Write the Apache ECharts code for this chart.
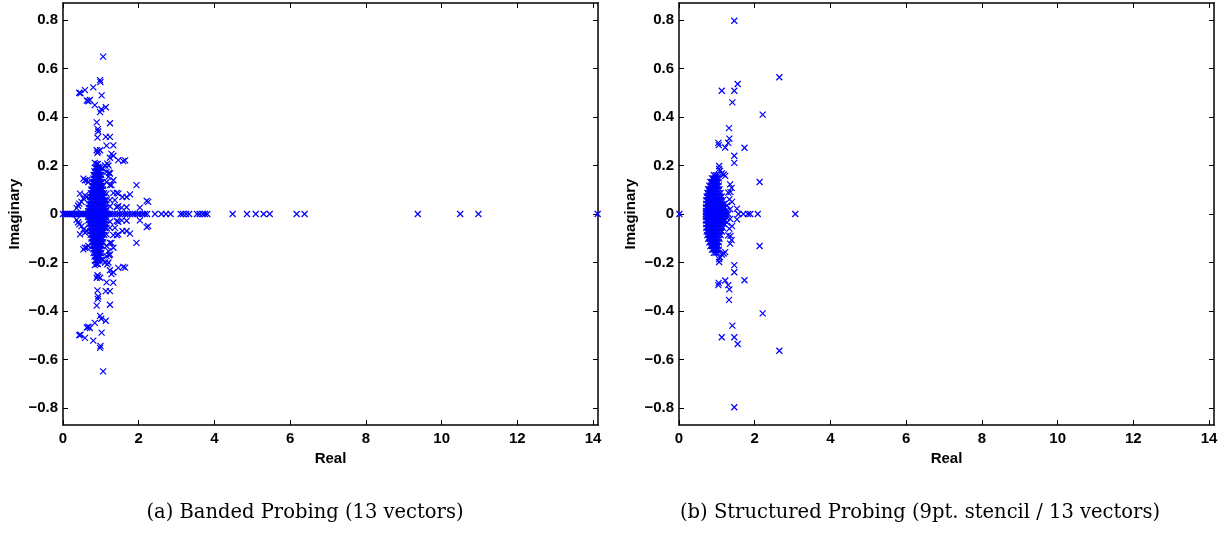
<!DOCTYPE html>
<html>
<head>
<meta charset="utf-8">
<script src="https://cdn.jsdelivr.net/npm/echarts@6/dist/echarts.min.js"></script>
<style>
html,body{margin:0;padding:0;background:#fff;}
#chart{width:1225px;height:537px;}
</style>
</head>
<body>
<div id="chart"></div>
<script>
// ---- tick labels ----
const xTicks = [0, 2, 4, 6, 8, 10, 12, 14];
const yTicks = [-0.8, -0.6, -0.4, -0.2, 0, 0.2, 0.4, 0.6, 0.8];
const captions = ['(a) Banded Probing (13 vectors)', '(b) Structured Probing (9pt. stencil / 13 vectors)'];

// ---- (a) Banded probing: real eigenvalues ----
const leftReal = [0.00,0.05,0.10,0.14,0.18,0.22,0.25,0.29,0.32,0.36,0.40,0.44,0.48,0.52,0.56,0.60,0.64,
  0.68,0.72,0.76,0.80,0.84,0.88,0.92,0.96,1.00,1.04,1.08,1.12,1.16,1.20,1.24,1.30,1.37,1.44,1.50,1.57,
  1.64,1.70,1.77,1.84,1.90,1.97,2.03,2.10,2.16,2.22,2.43,2.60,2.72,2.84,3.11,3.17,3.25,3.33,3.54,3.61,
  3.69,3.75,3.81,4.48,4.86,5.09,5.30,5.46,6.17,6.38,9.37,10.49,10.97,14.12];
// complex eigenvalues (re, |im|), each drawn with its conjugate
const leftComplex = [
  [1.06,0.649],[0.98,0.552],[0.99,0.544],[0.43,0.500],[0.46,0.498],[0.58,0.511],[0.80,0.522],[1.02,0.489],
  [0.63,0.468],[0.67,0.465],[0.71,0.470],[0.84,0.449],[0.98,0.420],[1.01,0.432],[1.13,0.440],[0.89,0.378],
  [1.24,0.374],[0.92,0.350],[0.93,0.340],[0.91,0.315],[1.13,0.318],[1.24,0.318],[1.15,0.282],[1.33,0.283],
  [0.89,0.263],[0.98,0.263],[0.91,0.252],[0.93,0.258],[1.28,0.248],[1.33,0.240],[1.24,0.232],[1.46,0.222],
  [1.59,0.218],[1.64,0.221],[0.84,0.211],[1.11,0.200],[1.17,0.208],[1.20,0.200],[1.02,0.188],[0.93,0.194],
  [1.06,0.188],[1.15,0.174],[1.24,0.167],[1.22,0.170],[0.54,0.146],[0.58,0.139],[0.63,0.139],[0.67,0.132],
  [1.94,0.119],[1.28,0.119],[1.33,0.139],[1.20,0.153],[1.15,0.132],[1.24,0.119],[0.45,0.084],[0.58,0.077],
  [0.54,0.064],[0.63,0.070],[0.49,0.050],[1.42,0.087],[1.46,0.084],[1.33,0.087],[1.15,0.084],[1.77,0.081],
  [1.68,0.070],[1.57,0.070],[0.43,0.043],[2.21,0.054],[2.25,0.050],[2.03,0.026],[1.68,0.028],[0.40,0.034],
  [0.36,0.024],[1.42,0.029],[1.46,0.032],[1.55,0.026],[1.24,0.032],[1.24,0.057],[1.37,0.057],[1.15,0.057],
  // dense cluster
  [0.66,0.012],[0.70,0.012],[0.74,0.012],[0.78,0.012],[0.82,0.012],[0.86,0.012],[0.90,0.012],[0.94,0.012],[0.98,0.012],[1.02,0.012],[1.06,0.012],[1.10,0.012],[1.14,0.012],
  [0.67,0.026],[0.72,0.026],[0.76,0.026],[0.81,0.026],[0.85,0.026],[0.89,0.026],[0.93,0.026],[0.97,0.026],[1.01,0.026],[1.05,0.026],[1.09,0.026],[1.13,0.026],
  [0.69,0.041],[0.73,0.041],[0.78,0.041],[0.83,0.041],[0.88,0.041],[0.92,0.041],[0.96,0.041],[1.00,0.041],[1.04,0.041],[1.08,0.041],[1.12,0.041],
  [0.70,0.056],[0.75,0.056],[0.80,0.056],[0.85,0.056],[0.89,0.056],[0.93,0.056],[0.97,0.056],[1.01,0.056],[1.06,0.056],[1.10,0.056],
  [0.72,0.071],[0.77,0.071],[0.81,0.071],[0.86,0.071],[0.90,0.071],[0.94,0.071],[0.98,0.071],[1.03,0.071],[1.08,0.071],
  [0.73,0.086],[0.78,0.086],[0.82,0.086],[0.87,0.086],[0.91,0.086],[0.95,0.086],[0.99,0.086],[1.04,0.086],[1.09,0.086],
  [0.75,0.101],[0.79,0.101],[0.84,0.101],[0.88,0.101],[0.92,0.101],[0.96,0.101],[1.00,0.101],[1.05,0.101],
  [0.76,0.116],[0.81,0.116],[0.85,0.116],[0.89,0.116],[0.93,0.116],[0.97,0.116],[1.02,0.116],[1.06,0.116],
  [0.78,0.131],[0.82,0.131],[0.86,0.131],[0.90,0.131],[0.94,0.131],[0.98,0.131],[1.03,0.131],
  [0.80,0.146],[0.84,0.146],[0.88,0.146],[0.92,0.146],[0.96,0.146],[1.00,0.146],
  [0.81,0.161],[0.85,0.161],[0.89,0.161],[0.93,0.161],[0.97,0.161],[1.01,0.161],
  [0.83,0.176],[0.87,0.176],[0.91,0.176],[0.95,0.176],[0.99,0.176],
  [0.85,0.191],[0.89,0.191],[0.93,0.191],[0.97,0.191],
  [0.88,0.206],[0.92,0.206]
];

// ---- (b) Structured probing ----
const rightReal = [0.01,0.71,0.75,0.79,0.83,0.87,0.91,0.95,0.99,1.03,1.07,1.11,1.15,1.20,1.25,1.30,
  1.57,1.70,1.82,1.88,2.08,3.07];
const rightComplex = [
  [1.46,0.797],[2.65,0.564],[1.13,0.508],[1.46,0.508],[1.55,0.536],[1.41,0.460],[2.21,0.410],[1.32,0.354],
  [1.33,0.311],[1.30,0.293],[1.04,0.293],[1.05,0.284],[1.22,0.274],[1.73,0.273],[1.46,0.240],[1.46,0.211],
  [1.06,0.198],[1.06,0.186],[2.13,0.132],[1.53,0.022],[1.13,0.167],[1.18,0.163],[1.22,0.157],[1.08,0.178],
  [1.35,0.122],[1.39,0.108],[1.30,0.088],[1.36,0.090],[1.33,0.060],[1.40,0.050],[1.27,0.035],[1.35,0.020],
  // dense cluster
  [0.71,0.012],[0.75,0.012],[0.79,0.012],[0.83,0.012],[0.87,0.012],[0.91,0.012],[0.95,0.012],[0.99,0.012],[1.03,0.012],[1.07,0.012],[1.11,0.012],[1.15,0.012],[1.19,0.012],[1.24,0.012],
  [0.71,0.027],[0.75,0.027],[0.79,0.027],[0.83,0.027],[0.87,0.027],[0.91,0.027],[0.95,0.027],[0.99,0.027],[1.03,0.027],[1.07,0.027],[1.11,0.027],[1.16,0.027],[1.21,0.027],
  [0.72,0.042],[0.76,0.042],[0.80,0.042],[0.84,0.042],[0.88,0.042],[0.92,0.042],[0.96,0.042],[1.00,0.042],[1.04,0.042],[1.09,0.042],[1.14,0.042],[1.19,0.042],
  [0.72,0.057],[0.76,0.057],[0.80,0.057],[0.84,0.057],[0.88,0.057],[0.92,0.057],[0.96,0.057],[1.00,0.057],[1.05,0.057],[1.10,0.057],[1.16,0.057],
  [0.73,0.072],[0.77,0.072],[0.81,0.072],[0.85,0.072],[0.89,0.072],[0.93,0.072],[0.97,0.072],[1.02,0.072],[1.07,0.072],[1.13,0.072],
  [0.75,0.087],[0.79,0.087],[0.83,0.087],[0.87,0.087],[0.91,0.087],[0.95,0.087],[0.99,0.087],[1.04,0.087],[1.10,0.087],
  [0.77,0.102],[0.81,0.102],[0.85,0.102],[0.89,0.102],[0.93,0.102],[0.97,0.102],[1.01,0.102],[1.07,0.102],
  [0.80,0.117],[0.84,0.117],[0.88,0.117],[0.92,0.117],[0.96,0.117],[1.00,0.117],[1.05,0.117],
  [0.83,0.132],[0.87,0.132],[0.91,0.132],[0.95,0.132],[0.99,0.132],[1.04,0.132],
  [0.87,0.147],[0.91,0.147],[0.95,0.147],[1.00,0.147],[1.05,0.147],
  [0.92,0.160],[0.97,0.160],[1.02,0.160]
];

const X_MAX = 14.13, Y_LIM = 0.87;
const BLUE = '#0000ff';
const SANS = '"Liberation Sans", Arial, Helvetica, sans-serif';

function points(realList, complexList) {
  const out = realList.map(r => [r, 0]);
  complexList.forEach(([re, im]) => { out.push([re, im]); out.push([re, -im]); });
  return out;
}

const grids = [
  { left: 63, top: 3, width: 535, height: 422 },
  { left: 679, top: 3, width: 535, height: 422 }
];

const lineStyle = { color: '#000', width: 1.5 };
const tickBase = { show: true, inside: true, length: 5, lineStyle: { color: '#000', width: 1 } };

const xAxes = [], yAxes = [], series = [];
grids.forEach((g, i) => {
  xAxes.push({
    gridIndex: i, type: 'value', position: 'bottom', min: 0, max: X_MAX,
    name: 'Real', nameLocation: 'middle', nameGap: 18,
    nameTextStyle: { fontFamily: SANS, fontWeight: 'bold', fontSize: 15, color: '#000' },
    axisLine: { show: true, onZero: false, lineStyle },
    axisTick: Object.assign({ customValues: xTicks }, tickBase),
    axisLabel: { customValues: xTicks, margin: 6, fontFamily: SANS, fontWeight: 'bold', fontSize: 15, color: '#000',
      formatter: v => String(v) },
    splitLine: { show: false }
  });
  xAxes.push({
    gridIndex: i, type: 'value', position: 'top', min: 0, max: X_MAX,
    axisLine: { show: true, onZero: false, lineStyle },
    axisTick: Object.assign({ customValues: xTicks }, tickBase),
    axisLabel: { show: false },
    splitLine: { show: false }
  });
  yAxes.push({
    gridIndex: i, type: 'value', position: 'left', min: -Y_LIM, max: Y_LIM,
    name: 'Imaginary', nameLocation: 'middle', nameGap: 41,
    nameTextStyle: { fontFamily: SANS, fontWeight: 'bold', fontSize: 15, color: '#000' },
    axisLine: { show: true, onZero: false, lineStyle },
    axisTick: Object.assign({ customValues: yTicks }, tickBase),
    axisLabel: { customValues: yTicks, margin: 5, fontFamily: SANS, fontWeight: 'bold', fontSize: 15, color: '#000',
      formatter: v => (Math.abs(v) < 1e-9 ? '0' : (v < 0 ? '\u2212' : '') + Math.abs(v).toFixed(1)) },
    splitLine: { show: false }
  });
  yAxes.push({
    gridIndex: i, type: 'value', position: 'right', min: -Y_LIM, max: Y_LIM,
    axisLine: { show: true, onZero: false, lineStyle },
    axisTick: Object.assign({ customValues: yTicks }, tickBase),
    axisLabel: { show: false },
    splitLine: { show: false }
  });
});

series.push({
  type: 'scatter', xAxisIndex: 0, yAxisIndex: 0,
  data: points(leftReal, leftComplex)
});
series.push({
  type: 'scatter', xAxisIndex: 2, yAxisIndex: 2,
  data: points(rightReal, rightComplex)
});
series.forEach(s => {
  s.symbol = 'path://M0,0L10,10M10,0L0,10';
  s.symbolSize = 6;
  s.itemStyle = { color: 'rgba(0,0,0,0)', borderColor: BLUE, borderWidth: 1.2, opacity: 1 };
  s.emphasis = { disabled: true };
  s.silent = true;
});

const chart = echarts.init(document.getElementById('chart'), null, { renderer: 'canvas' });
chart.setOption({
  animation: false,
  backgroundColor: '#fff',
  grid: grids,
  xAxis: xAxes,
  yAxis: yAxes,
  series: series,
  graphic: [
    { type: 'text', x: 305, y: 513, style: { text: captions[0], textAlign: 'center', textVerticalAlign: 'middle',
      fontFamily: '"DejaVu Serif", serif', fontSize: 19.5, fill: '#000' } },
    { type: 'text', x: 920, y: 513, style: { text: captions[1], textAlign: 'center', textVerticalAlign: 'middle',
      fontFamily: '"DejaVu Serif", serif', fontSize: 19.5, fill: '#000' } }
  ]
});
</script>
</body>
</html>
